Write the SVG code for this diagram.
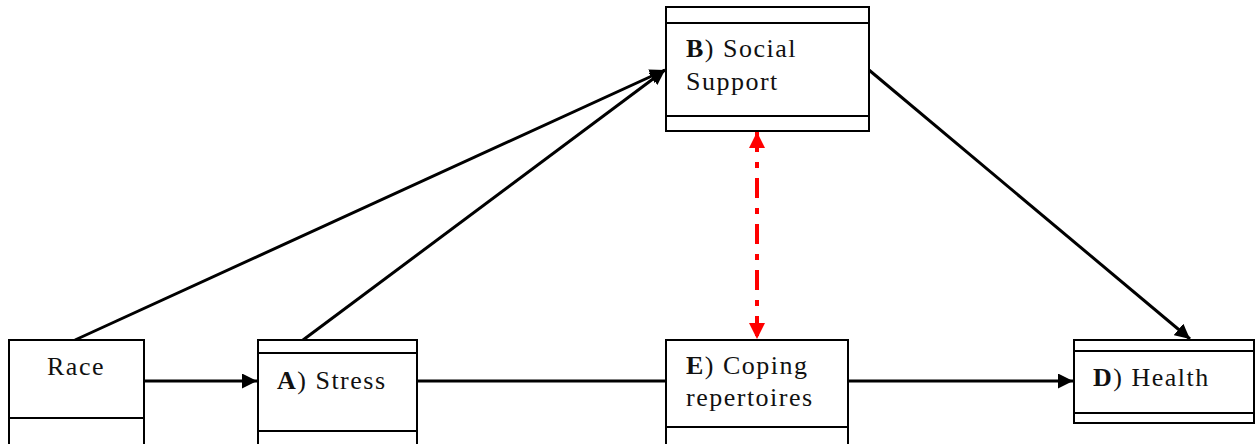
<svg xmlns="http://www.w3.org/2000/svg" width="1259" height="444" viewBox="0 0 1259 444">
<defs>
<style>
.box{fill:#fff;stroke:#000;stroke-width:2}
.div{stroke:#000;stroke-width:2}
.t{font-family:"Liberation Serif","Times New Roman",serif;font-size:26px;letter-spacing:1.5px;fill:#111}
.b{font-weight:bold}
.c{stroke:#000;stroke-width:3;fill:none}
.r{stroke:#f00;stroke-width:4;fill:none;stroke-dasharray:20 10 6 10}
</style>
<marker id="ah" viewBox="0 0 10 10" refX="10" refY="5" markerWidth="5" markerHeight="5" markerUnits="strokeWidth" orient="auto">
<path d="M0,0 L10,5 L0,10 z" fill="#000"/>
</marker>
<marker id="rh" viewBox="0 0 10 10" refX="10" refY="5" markerWidth="4" markerHeight="4" markerUnits="strokeWidth" orient="auto-start-reverse">
<path d="M0,0 L10,5 L0,10 z" fill="#f00"/>
</marker>
</defs>
<g id="connectors">
<line class="c" x1="75" y1="340" x2="665" y2="70" marker-end="url(#ah)"/>
<line class="c" x1="303" y1="340" x2="665" y2="70" marker-end="url(#ah)"/>
<line class="c" x1="869" y1="70" x2="1190" y2="339" marker-end="url(#ah)"/>
<line class="c" x1="145" y1="381" x2="257" y2="381" marker-end="url(#ah)"/>
<line class="c" x1="417" y1="381" x2="666" y2="381"/>
<line class="c" x1="848" y1="381" x2="1073" y2="381" marker-end="url(#ah)"/>
<line class="r" x1="757" y1="132" x2="757" y2="339" marker-start="url(#rh)" marker-end="url(#rh)"/>
</g>
<g id="race">
<rect class="box" x="9" y="340" width="135" height="110"/>
<line class="div" x1="9" y1="418" x2="144" y2="418"/>
<text class="t" x="47" y="375">Race</text>
</g>
<g id="stress">
<rect class="box" x="258" y="340" width="159" height="110"/>
<line class="div" x1="258" y1="353" x2="417" y2="353"/>
<line class="div" x1="258" y1="431" x2="417" y2="431"/>
<text class="t" x="277" y="389"><tspan class="b">A</tspan>) Stress</text>
</g>
<g id="social">
<rect class="box" x="666" y="7" width="203" height="124"/>
<line class="div" x1="666" y1="23" x2="869" y2="23"/>
<line class="div" x1="666" y1="116" x2="869" y2="116"/>
<text class="t" x="686" y="57"><tspan class="b">B</tspan>) Social</text>
<text class="t" x="686" y="90">Support</text>
</g>
<g id="coping">
<rect class="box" x="666" y="340" width="182" height="110"/>
<line class="div" x1="666" y1="427" x2="848" y2="427"/>
<text class="t" x="686" y="374"><tspan class="b">E</tspan>) Coping</text>
<text class="t" x="686" y="406">repertoires</text>
</g>
<g id="health">
<rect class="box" x="1074" y="340" width="180" height="83"/>
<line class="div" x1="1074" y1="351" x2="1254" y2="351"/>
<line class="div" x1="1074" y1="413" x2="1254" y2="413"/>
<text class="t" x="1093" y="386"><tspan class="b">D</tspan>) Health</text>
</g>
</svg>
